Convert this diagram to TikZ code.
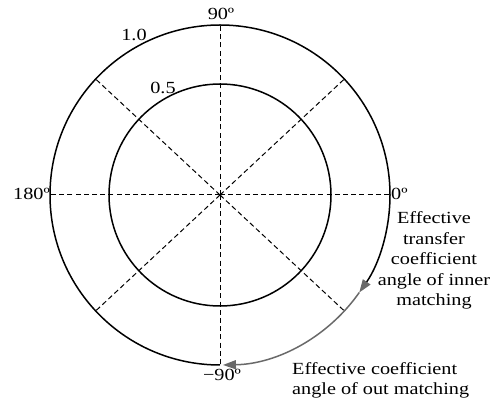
\documentclass[tikz,border=0pt]{standalone}
\usepackage{fontspec}
\setmainfont{Liberation Serif}[FakeStretch=1.19]
\usetikzlibrary{arrows.meta}
\definecolor{arrowgray}{RGB}{105,105,105}
\tikzset{
  ring/.style={line width=1.5pt, black},
  dashline/.style={line width=1pt, dash pattern=on 5pt off 3.2pt},
  lbl/.style={inner sep=0pt, font=\fontsize{17}{20.5}\selectfont},
  gtip/.style={-{Triangle[length=13pt,width=9pt,color=arrowgray]}},
}
\begin{document}
\begin{tikzpicture}[x=1pt,y=1pt]
\useasboundingbox (0,0) rectangle (493,399);
\coordinate (c) at (220,204);
% dashed spokes
\foreach \a in {0,43,90,137,180,223,270,317}
  \draw[dashline] (c) -- ++(\a:170);
% inner circle
\draw[ring] (c) circle[radius=111];
% outer circle (black part)
\draw[ring] (c) ++(0:170) arc[start angle=0, end angle=270, radius=170];
% black arc 0 to -35 with gray tip
\draw[ring, gtip] (c) ++(0:170) coordinate (z) arc[start angle=0, end angle=-35, radius=170] coordinate (m);
% gray arc -35 to -90
\draw[line width=1.5pt, arrowgray, gtip] (m) arc[start angle=-35, end angle=-89, radius=170] coordinate (b);
% labels
\node[lbl] (l90) at (221,385) {90º};
\node[lbl] (l10) at (134,364) {1.0};
\node[lbl] (l05) at (163,311) {0.5};
\node[lbl, anchor=east] (l180) at (50,205) {180º};
\node[lbl, anchor=west] (l0) at (391,205) {0º};
\node[lbl] (lm90) at (222,24) {−90º};
\node[lbl, anchor=north, align=center] (inner) at (434,187.5)
  {Effective\\transfer\\coefficient\\angle of inner\\matching};
\node[lbl, anchor=north west, align=left] (outer) at (292,36.8)
  {Effective coefficient\\angle of out matching};
\end{tikzpicture}
\end{document}
